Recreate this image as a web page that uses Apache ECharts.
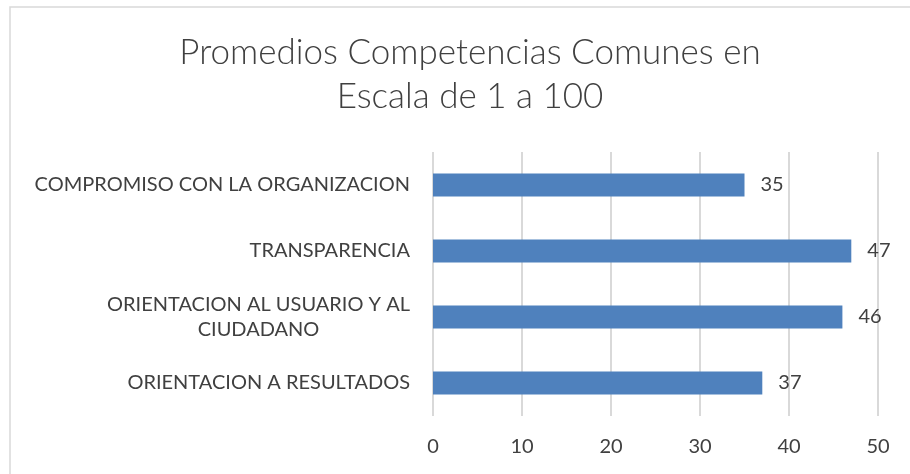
<!DOCTYPE html>
<html>
<head>
<meta charset="utf-8">
<script src="https://cdn.jsdelivr.net/npm/echarts@6/dist/echarts.min.js"></script>
<style>
  html, body { margin: 0; padding: 0; background: #fff; }
  #chart { width: 910px; height: 474px; }
</style>
</head>
<body>
<div id="chart"></div>
<script>
// categorías de abajo hacia arriba
const categorias = [
  'ORIENTACION A RESULTADOS',
  'ORIENTACION AL USUARIO Y AL\nCIUDADANO',
  'TRANSPARENCIA',
  'COMPROMISO CON LA ORGANIZACION'
]
const promedios = [37, 46, 47, 35]
const ejeMin = 0
const ejeMax = 50
const ejeIntervalo = 10

const textColor = '#404040'
const fontFam = 'Lato, "Open Sans", sans-serif'

const myChart = echarts.init(document.getElementById('chart'))

const option = {
  backgroundColor: '#fff',
  animation: false,
  graphic: [
    {
      type: 'rect',
      shape: { x: 10, y: 7, width: 920, height: 490 },
      style: { fill: 'none', stroke: '#d9d9d9', lineWidth: 1.5 },
      silent: true
    }
  ],
  title: {
    text: 'Promedios Competencias Comunes en\nEscala de 1 a 100',
    left: 465,
    top: 26,
    textAlign: 'center',
    textStyle: {
      color: textColor,
      fontFamily: fontFam,
      fontWeight: 300,
      fontSize: 35,
      lineHeight: 44
    }
  },
  grid: {
    left: 433,
    right: 32,
    top: 152,
    bottom: 58
  },
  xAxis: {
    type: 'value',
    min: ejeMin,
    max: ejeMax,
    interval: ejeIntervalo,
    axisLine: { show: false },
    axisTick: { show: false },
    axisLabel: {
      color: textColor,
      fontFamily: fontFam,
      fontSize: 20,
      margin: 21
    },
    splitLine: {
      lineStyle: { color: '#d9d9d9', width: 2 }
    }
  },
  yAxis: {
    type: 'category',
    data: categorias,
    axisLine: { show: false },
    axisTick: { show: false },
    axisLabel: {
      margin: 23,
      formatter: (v) => v.split('\n').map((l) => '{c|' + l + '}').join('\n'),
      rich: {
        c: {
          align: 'center',
          color: textColor,
          fontFamily: fontFam,
          fontSize: 20,
          lineHeight: 25
        }
      }
    }
  },
  series: [
    {
      name: 'Promedio',
      type: 'bar',
      data: promedios,
      barWidth: 23,
      itemStyle: { color: '#4f81bd' },
      label: {
        show: true,
        position: 'right',
        distance: 16,
        color: textColor,
        fontFamily: fontFam,
        fontSize: 20
      }
    }
  ]
}

myChart.setOption(option)
</script>
</body>
</html>
